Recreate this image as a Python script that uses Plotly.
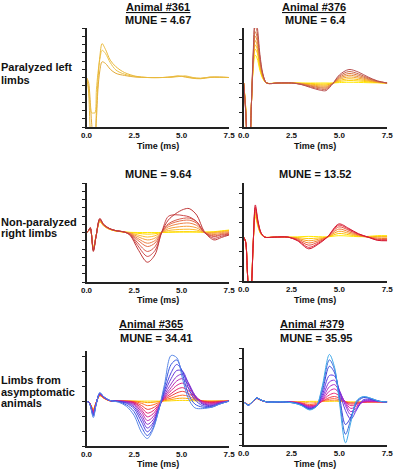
import plotly.graph_objects as go

# ---------------- data (time in ms, amplitude in arbitrary units) ----------------
t_361 = [0, 0.1, 0.2, 0.27, 0.35, 0.44, 0.52, 0.6, 0.7, 0.82, 1.0, 1.25, 1.55, 2.0, 2.6, 3.2, 4.0, 4.5, 4.8, 5.2, 5.6, 6.0, 6.5, 7.0, 7.5]
v_361 = [
    [0, -0.5, -3, -5.5, -7, -7, -5, -1.5, 0.8, 1.9, 1.7, 1.0, 0.5, 0.25, 0.05, 0, 0, 0.05, 0.15, 0.1, -0.05, -0.1, 0.05, 0.05, 0],
    [0, -1, -3.5, -4.3, -4.3, -4.3, -1.5, 0.5, 2.2, 3.3, 2.9, 1.8, 0.9, 0.4, 0.1, 0, 0, 0.05, 0.1, 0.2, 0, -0.1, 0.05, 0, 0],
    [0, -1.5, -6.5, -8, -8, -7.5, -4, -0.5, 2.5, 4.1, 3.4, 2.1, 1.3, 0.6, 0.15, 0, 0, 0.1, 0.2, 0.05, -0.1, -0.15, 0, 0.05, 0],
]
c_361 = ['#E2AA38', '#EBC24A', '#E9B83A']

t_376 = [0, 0.1, 0.2, 0.3, 0.4, 0.5, 0.6, 0.7, 0.85, 1.0, 1.2, 1.8, 2.5, 3.0, 3.5, 4.0, 4.3, 4.65, 5.0, 5.5, 6.0, 6.5, 7.0, 7.5]
v_376 = [
    [0, -1.5, -4, -4.5, -1.6, 1.0, 1.9, 1.7, 0.85, 0.3, 0, 0, 0, 0, 0, 0, 0, 0, 0.03, 0.05, 0.04, 0.02, 0.01, 0],
    [0, -1.5, -4, -4.5, -1.6, 1.2, 2.3, 2.1, 1.0, 0.35, 0, 0, 0, -0.02, -0.04, -0.07, -0.07, -0.01, 0.1, 0.17, 0.14, 0.08, 0.03, 0],
    [0, -1.6, -4, -4.5, -1.6, 1.3, 2.6, 2.35, 1.15, 0.4, 0, 0, 0, -0.03, -0.08, -0.13, -0.14, -0.02, 0.17, 0.29, 0.23, 0.13, 0.04, 0],
    [0, -1.6, -4, -4.5, -1.6, 1.4, 2.9, 2.6, 1.3, 0.45, 0, 0, 0, -0.04, -0.13, -0.2, -0.21, -0.03, 0.25, 0.41, 0.33, 0.18, 0.06, 0],
    [0, -1.7, -4, -4.5, -1.6, 1.5, 3.2, 2.9, 1.45, 0.5, 0, 0, 0, -0.06, -0.17, -0.27, -0.28, -0.03, 0.32, 0.53, 0.42, 0.24, 0.08, 0],
    [0, -1.7, -4, -4.5, -1.6, 1.7, 3.5, 3.15, 1.6, 0.55, 0, 0, 0, -0.07, -0.21, -0.33, -0.35, -0.04, 0.39, 0.65, 0.52, 0.29, 0.1, 0],
    [0, -1.8, -4, -4.5, -1.6, 1.9, 3.9, 3.5, 1.75, 0.6, 0, 0, 0, -0.09, -0.26, -0.41, -0.43, -0.05, 0.47, 0.78, 0.62, 0.35, 0.12, 0],
    [0, -1.8, -4, -4.5, -1.6, 2.1, 4.3, 3.9, 1.95, 0.65, 0, 0, 0, -0.1, -0.31, -0.49, -0.52, -0.05, 0.55, 0.92, 0.74, 0.41, 0.14, 0],
]
c_376 = ['#FFE800', '#FFD400', '#F9BE10', '#F2A628', '#E88E38', '#DB7840', '#CB6448', '#B85050']

t_964 = [0, 0.1, 0.2, 0.36, 0.5, 0.7, 0.9, 1.2, 1.5, 2.0, 2.3, 2.7, 3.2, 3.6, 3.95, 4.3, 4.7, 5.1, 5.4, 5.8, 6.2, 6.7, 7.1, 7.5]
v_964 = [
    [0, 0.2, 0.45, -1.8, -0.4, 1.3, 0.8, 0.4, 0.2, 0.05, 0.02, 0, 0, 0, 0, 0.02, 0.04, 0.05, 0.05, 0.05, 0.05, 0.1, 0.2, 0.3],
    [0, 0.2, 0.5, -1.9, -0.4, 1.35, 0.8, 0.4, 0.2, 0.05, 0, -0.1, -0.2, -0.15, 0, 0.06, 0.09, 0.1, 0.1, 0.08, 0.03, 0.05, 0.15, 0.25],
    [0, 0.2, 0.5, -2.0, -0.45, 1.4, 0.85, 0.42, 0.22, 0.05, -0.05, -0.3, -0.55, -0.4, 0, 0.24, 0.34, 0.39, 0.4, 0.3, 0.02, 0, 0.1, 0.2],
    [0, 0.2, 0.5, -2.0, -0.45, 1.45, 0.85, 0.42, 0.22, 0.05, -0.09, -0.5, -0.9, -0.68, 0, 0.45, 0.64, 0.74, 0.75, 0.56, 0, -0.1, 0.0, 0.1],
    [0, 0.2, 0.55, -2.1, -0.5, 1.5, 0.9, 0.45, 0.25, 0.05, -0.13, -0.72, -1.3, -0.98, 0, 0.69, 0.98, 1.13, 1.15, 0.86, 0, -0.25, -0.12, 0],
    [0, 0.2, 0.55, -2.1, -0.5, 1.55, 0.9, 0.45, 0.25, 0.05, -0.17, -0.94, -1.7, -1.28, 0, 0.9, 1.28, 1.47, 1.5, 1.12, 0, -0.4, -0.22, -0.1],
    [0, 0.2, 0.55, -2.2, -0.5, 1.6, 0.95, 0.48, 0.25, 0.05, -0.23, -1.27, -2.3, -1.73, 0, 1.05, 1.5, 1.72, 1.75, 1.3, 0, -0.5, -0.3, -0.2],
    [0, 0.2, 0.55, -2.2, -0.5, 1.65, 0.95, 0.48, 0.25, 0.05, -0.29, -1.6, -2.9, -2.2, 0, 1.95, 2.15, 2.05, 1.9, 1.3, 0, -0.7, -0.45, -0.25],
    [0, 0.2, 0.6, -2.3, -0.5, 1.7, 1.0, 0.5, 0.25, 0.05, -0.36, -2.0, -3.6, -2.7, 0, 1.5, 2.3, 2.8, 2.9, 2.1, 0.1, -0.9, -0.6, -0.3],
]
c_964 = ['#FFE800', '#FFD200', '#FBB82A', '#F59E3C', '#EE8448', '#E46E4C', '#D85A4C', '#CC484A', '#BE3838']

t_1352 = [0, 0.1, 0.2, 0.3, 0.4, 0.5, 0.61, 0.75, 0.9, 1.1, 1.6, 2.3, 2.8, 3.4, 3.9, 4.37, 4.97, 5.5, 6.0, 6.5, 7.0, 7.5]
v_1352 = [
    [0, -0.3, -2.5, -4.5, -3.5, -0.4, 1.4, 0.7, 0.2, 0, 0, 0, 0.02, 0.05, 0.03, 0.02, 0.1, 0.07, 0.03, 0.05, 0.1, 0.1],
    [0, -0.3, -2.5, -4.5, -3.5, -0.4, 1.55, 0.78, 0.23, 0, 0, 0, -0.03, -0.1, -0.06, 0, 0.25, 0.16, 0.06, 0.02, 0.05, 0.05],
    [0, -0.3, -2.5, -4.5, -3.5, -0.4, 1.7, 0.85, 0.25, 0, 0, 0, -0.08, -0.25, -0.15, 0, 0.4, 0.26, 0.1, 0, 0, 0],
    [0, -0.3, -2.5, -4.5, -3.5, -0.4, 1.8, 0.9, 0.27, 0, 0, 0, -0.12, -0.4, -0.24, 0, 0.55, 0.36, 0.14, 0, -0.08, -0.1],
    [0, -0.3, -2.5, -4.5, -3.5, -0.4, 1.95, 0.98, 0.29, 0, 0, 0, -0.17, -0.55, -0.33, 0, 0.7, 0.46, 0.18, 0, -0.15, -0.15],
    [0, -0.3, -2.5, -4.5, -3.5, -0.4, 2.05, 1.03, 0.31, 0, 0, 0, -0.21, -0.7, -0.42, 0, 0.82, 0.53, 0.21, 0, -0.2, -0.2],
    [0, -0.3, -2.5, -4.5, -3.5, -0.4, 2.2, 1.1, 0.33, 0, 0, 0, -0.24, -0.8, -0.48, 0, 0.9, 0.59, 0.23, 0, -0.22, -0.25],
]
c_1352 = ['#FFE800', '#FFC800', '#F8A020', '#F07830', '#E85040', '#E03040', '#D41830']

t_3441 = [0, 0.15, 0.36, 0.5, 0.7, 0.9, 1.2, 1.7, 2.1, 2.5, 2.9, 3.2, 3.5, 3.8, 4.1, 4.45, 4.75, 5.05, 5.35, 5.7, 6.1, 6.6, 7.0, 7.5]
v_3441 = [
    [0, -0.1, -0.5, -0.1, 0.35, 0.2, 0.03, 0, 0, 0, 0, 0, 0, 0, 0, 0.02, 0.04, 0.05, 0.04, 0.02, 0, 0, 0, 0],
    [0, -0.1, -0.55, -0.1, 0.37, 0.2, 0.03, 0, 0, 0, -0.05, -0.1, -0.08, -0.03, 0.03, 0.1, 0.17, 0.2, 0.17, 0.08, 0.01, 0, 0, 0],
    [0, -0.1, -0.6, -0.12, 0.4, 0.22, 0.03, 0, 0, -0.03, -0.15, -0.3, -0.25, -0.1, 0.08, 0.2, 0.33, 0.4, 0.33, 0.15, 0.02, -0.02, 0, 0],
    [0, -0.1, -0.65, -0.14, 0.42, 0.23, 0.04, 0, 0, -0.06, -0.3, -0.55, -0.45, -0.18, 0.12, 0.35, 0.55, 0.65, 0.52, 0.22, 0, -0.05, -0.02, 0],
    [0, -0.1, -0.7, -0.15, 0.44, 0.24, 0.04, 0, -0.02, -0.1, -0.45, -0.8, -0.65, -0.25, 0.18, 0.5, 0.78, 0.9, 0.7, 0.3, -0.02, -0.1, -0.05, 0],
    [0, -0.1, -0.75, -0.17, 0.46, 0.25, 0.04, 0, -0.03, -0.14, -0.6, -1.05, -0.85, -0.32, 0.25, 0.7, 1.05, 1.2, 0.9, 0.35, -0.05, -0.15, -0.07, 0],
    [0, -0.12, -0.8, -0.18, 0.48, 0.26, 0.05, 0, -0.04, -0.2, -0.75, -1.3, -1.05, -0.4, 0.3, 0.9, 1.35, 1.5, 1.1, 0.4, -0.1, -0.2, -0.1, 0],
    [0, -0.12, -0.85, -0.2, 0.5, 0.27, 0.05, -0.01, -0.06, -0.28, -0.95, -1.55, -1.25, -0.45, 0.4, 1.15, 1.65, 1.8, 1.25, 0.4, -0.15, -0.25, -0.12, 0],
    [0, -0.12, -0.9, -0.22, 0.52, 0.28, 0.05, -0.02, -0.1, -0.38, -1.15, -1.8, -1.45, -0.5, 0.55, 1.5, 2.05, 2.0, 1.2, 0.3, -0.2, -0.3, -0.15, 0],
    [0, -0.13, -0.95, -0.24, 0.54, 0.29, 0.05, -0.03, -0.15, -0.5, -1.4, -2.05, -1.6, -0.55, 0.7, 1.9, 2.45, 2.0, 0.9, 0.1, -0.3, -0.35, -0.18, 0],
    [0, -0.13, -1.0, -0.25, 0.55, 0.3, 0.06, -0.05, -0.25, -0.7, -1.75, -2.3, -1.8, -0.6, 0.9, 2.45, 2.75, 1.8, 0.5, -0.2, -0.4, -0.4, -0.2, 0],
    [0, -0.14, -1.1, -0.27, 0.56, 0.3, 0.06, -0.08, -0.35, -0.95, -2.1, -2.5, -1.9, -0.6, 1.1, 3.05, 2.9, 1.5, 0.2, -0.45, -0.5, -0.4, -0.2, 0],
]
c_3441 = ['#FFD700', '#FFA500', '#FF6A2A', '#F03C3C', '#E0206A', '#D0208C', '#B828B0', '#9030C8', '#6838D8', '#4A40E0', '#3A58E0', '#5A88E6']

t_3595 = [0, 0.25, 0.45, 0.68, 0.9, 1.2, 2.0, 2.6, 3.0, 3.45, 3.8, 4.1, 4.48, 4.75, 5.0, 5.32, 5.6, 5.9, 6.25, 6.7, 7.1, 7.5]
v_3595 = [
    [0, -0.25, 0, 0.3, 0.15, 0, 0, 0, 0.03, 0.05, 0.05, 0.05, 0.05, 0.06, 0.05, 0.03, 0, 0, 0, 0, 0, 0],
    [0, -0.25, 0, 0.3, 0.15, 0, 0, 0, 0, -0.1, -0.05, 0.05, 0.12, 0.15, 0.1, 0, -0.05, -0.03, 0, 0, 0, 0],
    [0, -0.27, 0, 0.32, 0.15, 0, 0, 0, -0.08, -0.25, -0.15, 0.05, 0.25, 0.3, 0.2, 0, -0.1, -0.08, -0.02, 0, 0, 0],
    [0, -0.27, 0, 0.32, 0.15, 0, 0, -0.02, -0.12, -0.35, -0.25, 0.05, 0.4, 0.5, 0.35, 0.02, -0.2, -0.15, -0.03, 0, 0, 0],
    [0, -0.28, 0, 0.33, 0.16, 0, 0, -0.03, -0.15, -0.4, -0.3, 0.1, 0.65, 0.8, 0.55, 0, -0.35, -0.25, -0.02, 0.02, 0, 0],
    [0, -0.28, 0, 0.34, 0.16, 0, 0, -0.04, -0.18, -0.45, -0.32, 0.15, 1.0, 1.2, 0.8, -0.05, -0.6, -0.4, 0, 0.05, 0.02, 0],
    [0, -0.29, 0, 0.34, 0.17, 0, 0, -0.05, -0.2, -0.5, -0.35, 0.25, 1.4, 1.6, 1.0, -0.15, -0.9, -0.55, 0.05, 0.1, 0.03, 0],
    [0, -0.3, 0, 0.35, 0.17, 0, 0, -0.06, -0.22, -0.55, -0.38, 0.4, 1.85, 2.0, 1.1, -0.35, -1.2, -0.65, 0.1, 0.15, 0.05, 0],
    [0, -0.3, 0, 0.35, 0.18, 0, 0, -0.07, -0.25, -0.6, -0.4, 0.6, 2.45, 2.4, 1.0, -0.8, -1.6, -0.75, 0.2, 0.2, 0.05, 0],
    [0, -0.3, 0, 0.36, 0.18, 0, 0, -0.08, -0.28, -0.65, -0.4, 0.9, 3.3, 2.7, 0.6, -2.1, -1.4, -0.1, 0.4, 0.25, 0.05, 0],
    [0, -0.3, 0, 0.36, 0.18, 0, 0, -0.1, -0.3, -0.7, -0.4, 1.2, 3.9, 3.0, 0.3, -3.0, -1.6, 0.05, 0.45, 0.3, 0.05, 0],
    [0, -0.3, 0, 0.36, 0.18, 0, 0, -0.1, -0.32, -0.75, -0.4, 1.4, 4.4, 3.2, 0, -3.8, -1.9, 0.1, 0.5, 0.3, 0.05, 0],
]
c_3595 = ['#FFD700', '#FFA040', '#FF6040', '#F03C50', '#E52878', '#D020A8', '#B028C8', '#8C30D8', '#6038E0', '#3A3CD8', '#3A68D8', '#40A8E8']

x_ticks = [0, 2.5, 5.0, 7.5]
x_tick_labels = ['0.0', '2.5', '5.0', '7.5']
y_ranges = {1: [-6, 6], 2: [-3, 3.75], 3: [-6, 6], 4: [-3, 3.7], 5: [-3, 3.35], 6: [-4, 5]}

# ---------------- figure ----------------
W, H = 400, 470
def px(x):
    return x / W
def py(y):
    return 1 - y / H

panels = [
    (1, t_361, v_361, c_361),
    (2, t_376, v_376, c_376),
    (3, t_964, v_964, c_964),
    (4, t_1352, v_1352, c_1352),
    (5, t_3441, v_3441, c_3441),
    (6, t_3595, v_3595, c_3595),
]

fig = go.Figure()
for k, t, vals, cols in panels:
    sfx = '' if k == 1 else str(k)
    for v, c in zip(vals, cols):
        fig.add_trace(go.Scatter(
            x=t, y=v, mode='lines', xaxis='x' + sfx, yaxis='y' + sfx,
            line=dict(color=c, width=1, shape='spline', smoothing=0.9),
            showlegend=False, hoverinfo='skip'))

xdom = {'L': [px(83), px(230)], 'R': [px(245), px(393)]}
ydom = {1: [py(127), py(28)], 2: [py(127), py(28)],
        3: [py(282), py(183)], 4: [py(281), py(183)],
        5: [py(446), py(351)], 6: [py(445), py(348)]}

tick_font = dict(family='Liberation Sans, Arial, sans-serif', size=8, color='#111', weight='bold')
layout = dict(width=W, height=H, margin=dict(l=0, r=0, t=0, b=0),
              paper_bgcolor='white', plot_bgcolor='white', showlegend=False)
for k in range(1, 7):
    sfx = '' if k == 1 else str(k)
    side = 'L' if k % 2 == 1 else 'R'
    layout['xaxis' + sfx] = dict(
        domain=xdom[side], anchor='y' + sfx, range=[0, 7.5],
        tickvals=x_ticks, ticktext=x_tick_labels, tickfont=tick_font,
        ticks='', showline=True, linecolor='#222', linewidth=1.5,
        showgrid=False, zeroline=False, ticklabelstandoff=0, fixedrange=True)
    layout['yaxis' + sfx] = dict(
        domain=ydom[k], anchor='x' + sfx, range=y_ranges[k], dtick=1,
        showticklabels=False, ticks='outside', ticklen=3, tickwidth=1, tickcolor='#222',
        showline=True, linecolor='#222', linewidth=1.5,
        showgrid=False, zeroline=False, fixedrange=True)
fig.update_layout(**layout)

font = 'Liberation Sans, Arial, sans-serif'
def ann(text, x, y, size=11, xanchor='center'):
    fig.add_annotation(text=text, x=px(x), y=py(y), xref='paper', yref='paper',
                       xanchor=xanchor, yanchor='middle', showarrow=False,
                       font=dict(family=font, size=size, color='#111', weight='bold'))

# titles
ann('<u>Animal #361</u>', 157, 6.5)
ann('MUNE = 4.67', 157, 19.5)
ann('<u>Animal #376</u>', 318, 6.5)
ann('MUNE = 6.4', 319, 19.5)
ann('MUNE = 9.64', 157, 174)
ann('MUNE = 13.52', 319, 174)
ann('<u>Animal #365</u>', 149, 323.5)
ann('MUNE = 34.41', 155, 337.5)
ann('<u>Animal #379</u>', 315, 323.5)
ann('MUNE = 35.95', 320, 337.5)

# row labels
lx = -7
ann('Paralyzed left', lx, 67, xanchor='left')
ann('limbs', lx, 79.5, xanchor='left')
ann('Non-paralyzed', lx, 222, xanchor='left')
ann('right limbs', lx, 233, xanchor='left')
ann('Limbs from', lx, 380, xanchor='left')
ann('asymptomatic', lx, 391.5, xanchor='left')
ann('animals', lx, 403, xanchor='left')

# x-axis titles
for x0 in (157, 319):
    ann('Time (ms)', x0, 145.5, size=9)
    ann('Time (ms)', x0, 299.5, size=9)
    ann('Time (ms)', x0, 464, size=9)

fig.write_html('out.html', config={'displayModeBar': False},
               post_script="document.body.style.margin='0';document.body.style.overflow='hidden';")
